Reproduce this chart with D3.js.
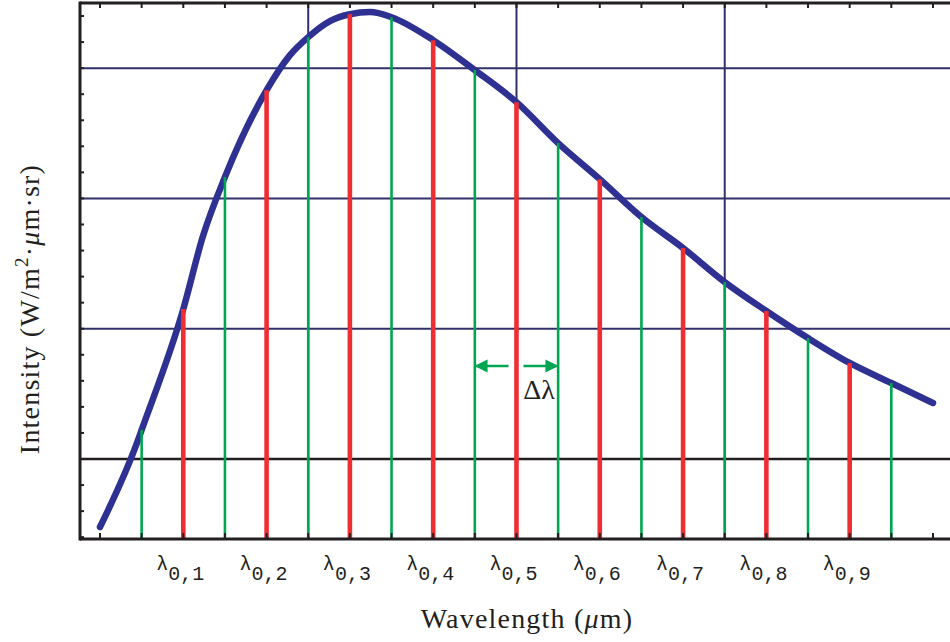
<!DOCTYPE html>
<html>
<head>
<meta charset="utf-8">
<script src="https://cdn.jsdelivr.net/npm/d3@7"></script>
<style>
  html, body { margin: 0; padding: 0; background: #fff; }
  svg { display: block; }
</style>
</head>
<body>
<svg id="chart" width="950" height="642"></svg>
<script>
// Spectral intensity curve, sampled in wavelength steps (k = step index)
const curveK = [0, 0.888, 1, 2, 2.473, 3, 4, 4.562, 5, 5.522, 6, 6.483, 7, 8, 9, 10, 11, 12, 13, 14, 15, 16, 17, 18, 19, 20];
const curveI = [-0.522, 0.123, 0.223, 1.151, 1.711, 2.164, 2.831, 3.100, 3.238, 3.361, 3.414, 3.430, 3.391, 3.215, 2.985, 2.739, 2.425, 2.148, 1.857, 1.619, 1.358, 1.136, 0.928, 0.737, 0.583, 0.430];

// Band edges (green) and band centres λ0,i (red)
const edgeK = [1, 3, 5, 7, 9, 11, 13, 15, 17, 19];
const edgeI = [0.223, 2.164, 3.238, 3.391, 2.985, 2.425, 1.857, 1.358, 0.928, 0.583];
const centerK = [2, 4, 6, 8, 10, 12, 14, 16, 18];
const centerI = [1.151, 2.831, 3.414, 3.215, 2.739, 2.148, 1.619, 1.136, 0.737];
const centerLabels = ["0,1", "0,2", "0,3", "0,4", "0,5", "0,6", "0,7", "0,8", "0,9"];

// Axis ticks and grid
const xTicks = d3.range(0, 21);
const xGrid = [5, 10, 15];
const yTicks = d3.range(-6, 35, 2).map(d => d / 10);
const yGrid = [1, 2, 3];
const yZero = 0;

const NAVY = "#2e3192", RED = "#ee2e33", GREEN = "#00a651", GRID = "#30306a", INK = "#231f20";
const SERIF = "'Liberation Serif', 'DejaVu Serif', serif";

const svg = d3.select("#chart");
const mLeft = 80, mTop = 3, mRight = 953.8, mBottom = 539;

const x = d3.scaleLinear().domain([-0.48, 20.5]).range([mLeft, mRight]);
const y = d3.scaleLinear().domain([-0.614, 3.5]).range([mBottom, mTop]);

const defs = svg.append("defs");
defs.append("clipPath").attr("id", "plot")
  .append("rect").attr("x", mLeft).attr("y", mTop).attr("width", mRight - mLeft).attr("height", mBottom - mTop);

const plot = svg.append("g").attr("clip-path", "url(#plot)");

// Grid lines
plot.selectAll(".hgrid").data(yGrid).join("line")
  .attr("x1", mLeft).attr("x2", mRight)
  .attr("y1", d => y(d)).attr("y2", d => y(d))
  .attr("stroke", GRID).attr("stroke-width", 2);
plot.selectAll(".vgrid").data(xGrid).join("line")
  .attr("x1", d => x(d)).attr("x2", d => x(d))
  .attr("y1", mTop).attr("y2", mBottom)
  .attr("stroke", GRID).attr("stroke-width", 2);
// Zero axis
plot.append("line")
  .attr("x1", mLeft).attr("x2", mRight)
  .attr("y1", y(yZero)).attr("y2", y(yZero))
  .attr("stroke", INK).attr("stroke-width", 2.4);

// Intensity curve
const pts = curveK.map((k, i) => [k, curveI[i]]);
plot.append("path")
  .datum(pts)
  .attr("fill", "none")
  .attr("stroke", NAVY)
  .attr("stroke-width", 6.5)
  .attr("stroke-linecap", "round")
  .attr("stroke-linejoin", "round")
  .attr("d", d3.line().x(d => x(d[0])).y(d => y(d[1])).curve(d3.curveMonotoneX));

// Band edge lines (green)
plot.selectAll(".edge").data(edgeK).join("line")
  .attr("x1", d => x(d)).attr("x2", d => x(d))
  .attr("y1", mBottom).attr("y2", (d, i) => y(edgeI[i]))
  .attr("stroke", GREEN).attr("stroke-width", 2.6);

// Band centre lines (red)
plot.selectAll(".center").data(centerK).join("line")
  .attr("x1", d => x(d)).attr("x2", d => x(d))
  .attr("y1", mBottom).attr("y2", (d, i) => y(centerI[i]))
  .attr("stroke", RED).attr("stroke-width", 4.6);

// Frame
const frame = svg.append("g").attr("stroke", INK).attr("stroke-width", 3).attr("fill", "none");
frame.append("line").attr("x1", mLeft).attr("x2", 950).attr("y1", mTop).attr("y2", mTop);
frame.append("line").attr("x1", mLeft).attr("x2", 950).attr("y1", mBottom).attr("y2", mBottom);
frame.append("line").attr("x1", mLeft).attr("x2", mLeft).attr("y1", mTop - 1.5).attr("y2", mBottom + 1.5);

// Frame ticks
const ticks = svg.append("g").attr("stroke", INK).attr("stroke-width", 2);
ticks.selectAll(".tt").data(xTicks).join("line")
  .attr("x1", d => x(d)).attr("x2", d => x(d)).attr("y1", mTop).attr("y2", mTop + 5);
ticks.selectAll(".bt").data(xTicks).join("line")
  .attr("x1", d => x(d)).attr("x2", d => x(d)).attr("y1", mBottom).attr("y2", mBottom - 6);
ticks.selectAll(".lt").data(yTicks).join("line")
  .attr("x1", mLeft).attr("x2", mLeft + 4).attr("y1", d => y(d)).attr("y2", d => y(d));

// λ0,i labels
const lab = svg.selectAll(".lab").data(centerK).join("text")
  .attr("x", d => x(d) - 3)
  .attr("y", 570)
  .attr("text-anchor", "middle")
  .attr("font-family", "'Liberation Mono', 'DejaVu Sans Mono', monospace")
  .attr("font-size", 20)
  .attr("fill", INK);
lab.append("tspan").text("λ");
lab.append("tspan").attr("dy", 10).text((d, i) => centerLabels[i]);

// Δλ marker: arrows spanning one band step
const arrowY = 366;
defs.append("marker").attr("id", "ah")
  .attr("viewBox", "0 0 10 10").attr("refX", 9).attr("refY", 5)
  .attr("markerWidth", 13).attr("markerHeight", 14).attr("markerUnits", "userSpaceOnUse")
  .attr("orient", "auto")
  .append("path").attr("d", "M0,0 L10,5 L0,10 Z").attr("fill", GREEN);
svg.append("line")
  .attr("x1", x(10) - 8).attr("x2", x(9) + 1).attr("y1", arrowY).attr("y2", arrowY)
  .attr("stroke", GREEN).attr("stroke-width", 2.4).attr("marker-end", "url(#ah)");
svg.append("line")
  .attr("x1", x(10) + 7).attr("x2", x(11) - 1).attr("y1", arrowY).attr("y2", arrowY)
  .attr("stroke", GREEN).attr("stroke-width", 2.4).attr("marker-end", "url(#ah)");
svg.append("text")
  .attr("x", 539).attr("y", 399)
  .attr("text-anchor", "middle")
  .attr("font-family", SERIF)
  .attr("font-size", 28)
  .attr("fill", INK)
  .text("Δλ");

// Axis titles
const xt = svg.append("text")
  .attr("x", 527).attr("y", 628)
  .attr("text-anchor", "middle")
  .attr("font-family", SERIF)
  .attr("font-size", 28)
  .attr("letter-spacing", 1.2)
  .attr("fill", INK);
xt.append("tspan").text("Wavelength (");
xt.append("tspan").attr("font-style", "italic").text("μ");
xt.append("tspan").text("m)");

const yt = svg.append("text")
  .attr("transform", "translate(39,309) rotate(-90)")
  .attr("text-anchor", "middle")
  .attr("font-family", SERIF)
  .attr("font-size", 28)
  .attr("letter-spacing", 1.2)
  .attr("fill", INK);
yt.append("tspan").text("Intensity (W/m");
yt.append("tspan").attr("font-size", 19).attr("dy", -11).text("2");
yt.append("tspan").attr("dy", 11).text("·");
yt.append("tspan").attr("font-style", "italic").text("μ");
yt.append("tspan").text("m·sr)");
</script>
</body>
</html>
